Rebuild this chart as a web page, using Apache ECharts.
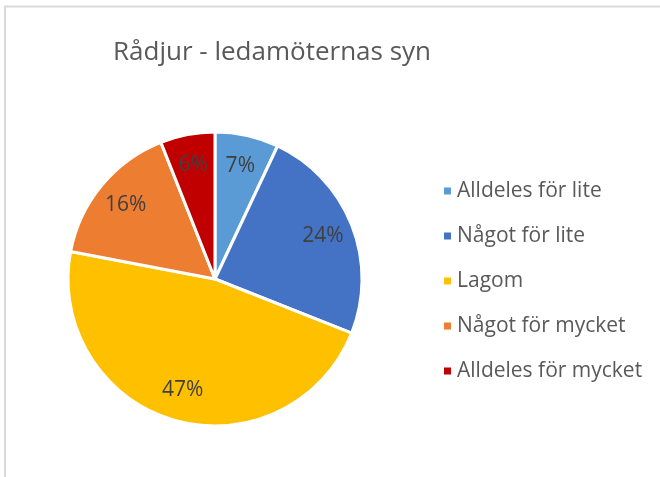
<!DOCTYPE html>
<html>
<head>
<meta charset="utf-8">
<script src="https://cdn.jsdelivr.net/npm/echarts@6/dist/echarts.min.js"></script>
<style>
html, body { margin: 0; padding: 0; background: #fff; }
#chart { width: 660px; height: 477px; }
</style>
</head>
<body>
<div id="chart"></div>
<script>
var categories = ['Alldeles för lite', 'Något för lite', 'Lagom', 'Något för mycket', 'Alldeles för mycket'];
var values = [7, 24, 47, 16, 6];
var colors = ['#5B9BD5', '#4472C4', '#FFC000', '#ED7D31', '#C00000'];

var font = "'Open Sans', sans-serif";

var myChart = echarts.init(document.getElementById('chart'));

var pieData = categories.map(function (name, i) {
    return { name: name, value: values[i], itemStyle: { color: colors[i] } };
});

var option = {
    animation: false,
    color: colors,
    title: {
        text: 'Rådjur - ledamöternas syn',
        left: 108,
        top: 35,
        textStyle: { fontFamily: font, fontSize: 26, fontWeight: 'normal', color: '#595959' }
    },
    legend: {
        orient: 'vertical',
        left: 437,
        top: 175,
        icon: 'rect',
        itemWidth: 9,
        itemHeight: 9,
        itemGap: 23,
        data: categories,
        selectedMode: false,
        textStyle: { fontFamily: font, fontSize: 21, lineHeight: 22, color: '#595959' }
    },
    graphic: [
        { type: 'line', shape: { x1: 4, y1: 6.5, x2: 660, y2: 6.5 }, style: { stroke: '#D9D9D9', lineWidth: 2 } },
        { type: 'line', shape: { x1: 5, y1: 6, x2: 5, y2: 477 }, style: { stroke: '#D9D9D9', lineWidth: 2 } }
    ],
    series: [
        {
            name: 'Rådjur',
            type: 'pie',
            center: [215, 279],
            radius: [0, 147],
            startAngle: 90,
            clockwise: true,
            silent: true,
            label: { show: false },
            labelLine: { show: false },
            itemStyle: { borderColor: '#fff', borderWidth: 3 },
            data: pieData
        },
        {
            name: 'labels',
            type: 'pie',
            center: [215, 279],
            radius: [88, 138],
            startAngle: 90,
            clockwise: true,
            silent: true,
            itemStyle: { color: 'rgba(0,0,0,0)', borderWidth: 0 },
            label: {
                show: true,
                position: 'inside',
                formatter: '{c}%',
                fontFamily: font,
                fontSize: 21,
                color: '#404040'
            },
            labelLine: { show: false },
            data: categories.map(function (name, i) {
                return { name: name, value: values[i] };
            })
        }
    ]
};

myChart.setOption(option);
</script>
</body>
</html>
